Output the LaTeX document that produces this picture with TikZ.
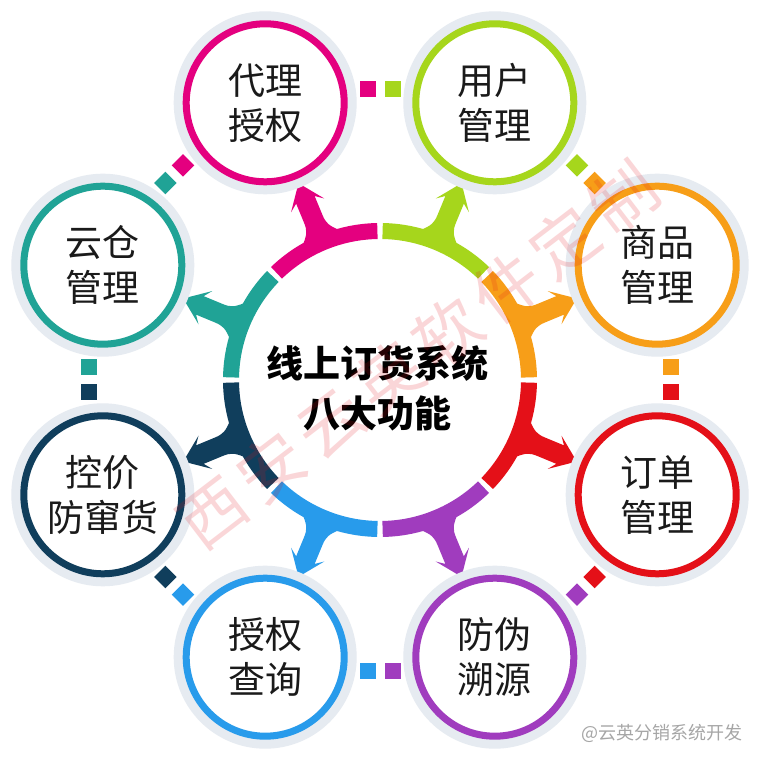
\documentclass[tikz,border=0pt]{standalone}
\usepackage{fontspec}
\newfontfamily\cjk{Noto Sans CJK SC}
\newfontfamily\wmfont{Noto Sans CJK SC}[LetterSpace=12]
\definecolor{cPink}{RGB}{228,0,127}
\definecolor{cGreen}{RGB}{166,214,28}
\definecolor{cOrange}{RGB}{247,158,24}
\definecolor{cRed}{RGB}{228,16,24}
\definecolor{cPurple}{RGB}{160,60,190}
\definecolor{cBlue}{RGB}{40,155,235}
\definecolor{cNavy}{RGB}{16,62,92}
\definecolor{cTeal}{RGB}{32,163,150}
\definecolor{halo}{RGB}{230,235,241}
\definecolor{ink}{RGB}{26,26,26}
\tikzset{spoke/.pic={
  \fill[#1] (155,-19) .. controls (162,-12) and (166,-10) .. (174,-10) -- (195,-10) -- (189,-18)
    -- (213,0) -- (189,18) -- (195,10) -- (174,10) .. controls (166,10) and (162,12) .. (155,19) -- cycle;
}}

\begin{document}
\begin{tikzpicture}[x=1pt,y=1pt,
  ring/.style={circle,draw=#1,line width=7pt,fill=white,minimum size=158pt,inner sep=0pt,
    preaction={draw=halo,line width=25pt},text=ink,align=center,
    font=\cjk\fontsize{37}{45}\selectfont},
  seg/.style={draw=#1,line width=16pt},
  sq/.style={fill=#1,minimum size=16pt,inner sep=0pt}]
\useasboundingbox[fill=white] (0,0) rectangle (760,760);
\node[circle,minimum size=282pt,inner sep=0pt] (hub) at (380,380) {};
% spokes
\pic[rotate=112.5] at (hub.center) {spoke=cPink};
\pic[rotate=67.5] at (hub.center) {spoke=cGreen};
\pic[rotate=22.5] at (hub.center) {spoke=cOrange};
\pic[rotate=-22.5] at (hub.center) {spoke=cRed};
\pic[rotate=-67.5] at (hub.center) {spoke=cPurple};
\pic[rotate=-112.5] at (hub.center) {spoke=cBlue};
\pic[rotate=-157.5] at (hub.center) {spoke=cNavy};
\pic[rotate=157.5] at (hub.center) {spoke=cTeal};
% ring segments
\draw[seg=cPink] (hub.center) ++(91:149) arc[start angle=91,end angle=134,radius=149];
\draw[seg=cGreen] (hub.center) ++(46:149) arc[start angle=46,end angle=89,radius=149];
\draw[seg=cOrange] (hub.center) ++(1:149) arc[start angle=1,end angle=44,radius=149];
\draw[seg=cRed] (hub.center) ++(-44:149) arc[start angle=-44,end angle=-1,radius=149];
\draw[seg=cPurple] (hub.center) ++(-89:149) arc[start angle=-89,end angle=-46,radius=149];
\draw[seg=cBlue] (hub.center) ++(-134:149) arc[start angle=-134,end angle=-91,radius=149];
\draw[seg=cNavy] (hub.center) ++(181:149) arc[start angle=181,end angle=224,radius=149];
\draw[seg=cTeal] (hub.center) ++(136:149) arc[start angle=136,end angle=179,radius=149];
\node[text=black,align=center,font=\cjk\bfseries\fontsize{37}{50}\selectfont] (title) at (377,372) {线上订货系统\\八大功能};
% outer circles
\node[ring=cPink] (daili) at (265.2,657.2) {代理\\授权};
\node[ring=cGreen] (yonghu) at (494.8,657.2) {用户\\管理};
\node[ring=cOrange] (shangpin) at (657.2,494.8) {商品\\管理};
\node[ring=cRed] (dingdan) at (657.2,265.2) {订单\\管理};
\node[ring=cPurple] (fangwei) at (494.8,102.8) {防伪\\溯源};
\node[ring=cBlue] (chaxun) at (265.2,102.8) {授权\\查询};
\node[ring=cNavy] (kongjia) at (102.8,265.2) {控价\\防窜货};
\node[ring=cTeal] (yuncang) at (102.8,494.8) {云仓\\管理};
% dashes between circles
\node[sq=cPink] (sqa1) at (367.5,671) {};
\node[sq=cGreen] (sqa2) at (392.5,671) {};
\node[sq=cGreen,rotate=45] (sqb1) at (577.0,594.6) {};
\node[sq=cOrange,rotate=45] (sqb2) at (594.6,577.0) {};
\node[sq=cOrange] (sqc1) at (671,392.5) {};
\node[sq=cRed] (sqc2) at (671,367.5) {};
\node[sq=cRed,rotate=45] (sqd1) at (594.6,183.0) {};
\node[sq=cPurple,rotate=45] (sqd2) at (577.0,165.4) {};
\node[sq=cPurple] (sqe1) at (392.5,89) {};
\node[sq=cBlue] (sqe2) at (367.5,89) {};
\node[sq=cBlue,rotate=45] (sqf1) at (183.0,165.4) {};
\node[sq=cNavy,rotate=45] (sqf2) at (165.4,183.0) {};
\node[sq=cNavy] (sqg1) at (89,367.5) {};
\node[sq=cTeal] (sqg2) at (89,392.5) {};
\node[sq=cTeal,rotate=45] (sqh1) at (165.4,577.0) {};
\node[sq=cPink,rotate=45] (sqh2) at (183.0,594.6) {};
% marks
\node[rotate=37.4,text=cRed,opacity=.17,font=\wmfont\fontsize{66}{66}\selectfont] (wm) at (418,405) {西安云英软件定制};
\node[anchor=east,text=black!35,font=\cjk\fontsize{18}{18}\selectfont] (credit) at (746,27) {@云英分销系统开发};
\end{tikzpicture}
\end{document}
